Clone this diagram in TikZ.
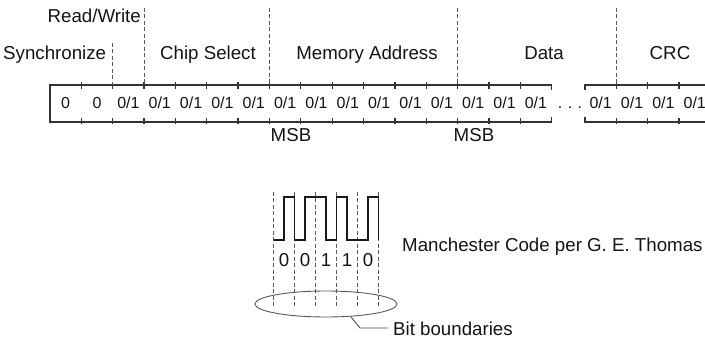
\documentclass[tikz,border=0pt]{standalone}
\usepackage{fontspec}
\setmainfont{Liberation Sans}
\usetikzlibrary{shapes.geometric}

\begin{document}
\begin{tikzpicture}[x=1pt,y=-1pt,
        label/.style={font=\fontsize{18.7}{22}\selectfont,text=black!92,inner sep=0pt},
        bit/.style={font=\fontsize{16}{18}\selectfont,text=black!92,inner sep=0pt,anchor=base},
        frame/.style={line width=1.3pt,draw=black!80},
        divider/.style={dash pattern=on 4pt off 2.5pt,line width=0.9pt,draw=black!65},
        wave/.style={line width=1.9pt,draw=black!90,line join=miter},
        leader/.style={line width=0.9pt,draw=black!70},
    ]
        \useasboundingbox (0,0) rectangle (705,339);

        \def\xO{50}                                 % left edge of the bit row
        \def\w{31.35}                               % width of one bit cell
        \def\yT{85}                                 % top of the bit row
        \def\yB{122}                                % bottom of the bit row
        \def\yS{109}                                % baseline of the bits
        \def\xG{585}                                % left edge of the row after the gap
        \pgfmathsetmacro\xE{\xO+16*\w}              % right edge of the row before the gap

        \def\mO{273.5}                              % first bit boundary of the Manchester code
        \def\mw{21}                                 % width of one Manchester bit
        \def\hi{197}                                % high level
        \def\lo{240}                                % low level

        % Draw the frame of the bit row, with the gap for the dots
        \draw[frame] (\xO,\yB) -- (\xO,\yT) -- (\xE,\yT) -- ++(0,5);
        \draw[frame] (\xO,\yT) -- (\xO,\yB) -- (\xE,\yB) -- ++(0,-5);
        \draw[frame] (\xG,\yT+5) -- (\xG,\yT) -- (712,\yT);
        \draw[frame] (\xG,\yB-5) -- (\xG,\yB) -- (712,\yB);
        \foreach \k in {1,...,15} {
            \draw[frame] (\xO+\k*\w,\yT-2.5) -- ++(0,6.5);
            \draw[frame] (\xO+\k*\w,\yB+2.5) -- ++(0,-6.5);
        }
        \foreach \k in {1,2,3} {
            \draw[frame] (\xG+\k*\w,\yT-2.5) -- ++(0,6.5);
            \draw[frame] (\xG+\k*\w,\yB+2.5) -- ++(0,-6.5);
        }

        % The bits
        \node[bit] (b0) at (\xO+0.5*\w,\yS) {0};
        \node[bit] (b1) at (\xO+1.5*\w,\yS) {0};
        \foreach \k in {2,...,15}
            \node[bit] (b\k) at (\xO+\k*\w+0.5*\w,\yS) {0/1};
        \node[bit] (dots) at (570,\yS) {.\hspace{5.5pt}.\hspace{5.5pt}.};
        \foreach \k in {0,...,3}
            \node[bit] (c\k) at (\xG+\k*\w+0.5*\w,\yS) {0/1};

        % Field dividers
        \foreach \k/\top in {2/43,3/8,7/8,13/8}
            \draw[divider] (\xO+\k*\w,\top) -- (\xO+\k*\w,\yT);
        \draw[divider] (\xG+\w,8) -- (\xG+\w,\yT);

        % Field names
        \node[label,anchor=base east] (rw) at (141,23) {Read/Write};
        \node[label,anchor=base west] (sync) at (3,60) {Synchronize};
        \node[label,anchor=base] (cs) at (208,60) {Chip Select};
        \node[label,anchor=base] (addr) at (367,60) {Memory Address};
        \node[label,anchor=base] (data) at (544,60) {Data};
        \node[label,anchor=base] (crc) at (670,60) {CRC};
        \node[label,anchor=base] (msbA) at (291,142) {MSB};
        \node[label,anchor=base] (msbD) at (474,142) {MSB};

        % Draw the Manchester code with its bit boundaries
        \foreach \k in {0,...,5}
            \draw[divider] (\mO+\k*\mw,192) -- (\mO+\k*\mw,306);
        \draw[wave] (\mO,\lo) -| (\mO+0.5*\mw,\hi) -| (\mO+\mw,\lo)
            -| (\mO+1.5*\mw,\hi) -| (\mO+2.5*\mw,\lo) -| (\mO+3*\mw,\hi)
            -| (\mO+3.5*\mw,\lo) -| (\mO+4.5*\mw,\hi) -| (\mO+5*\mw,\lo);
        \foreach \b [count=\k from 0] in {0,0,1,1,0}
            \node[label,anchor=base] (m\k) at (\mO+\k*\mw+0.5*\mw,267) {\b};
        \node[label,anchor=base west] (manch) at (402,252) {Manchester Code per G. E. Thomas};

        % The ellipse round the boundaries and its label
        \node[ellipse,draw=black!65,line width=0.9pt,inner sep=0pt,
              minimum width=142pt,minimum height=26pt] (bounds) at (326,304) {};
        \node[label,anchor=base west] (bl) at (393,336) {Bit boundaries};
        \coordinate (bend) at (360,328);
        \draw[leader] (bounds.-27) -- (bend) -- ([xshift=-5pt]bend -| bl.west);
\end{tikzpicture}
\end{document}
